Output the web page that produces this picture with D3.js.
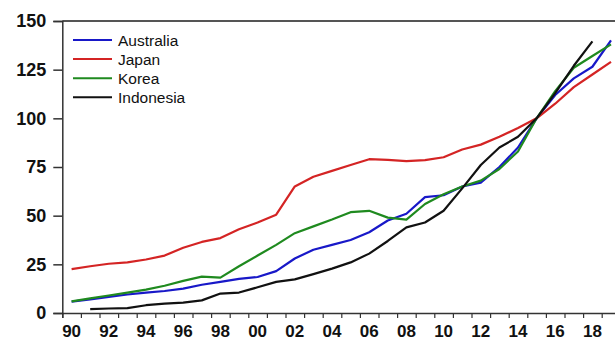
<!DOCTYPE html>
<html>
<head>
<meta charset="utf-8">
<script src="https://cdn.jsdelivr.net/npm/d3@7"></script>
<style>
  html, body { margin: 0; padding: 0; background: #fff; }
  svg { display: block; font-family: "Liberation Sans", Arial, sans-serif; }
</style>
</head>
<body>
<svg></svg>
<script>
// data (index, 2015 = 100)
const years = d3.range(1990, 2020);
const australia = [5.8, 7, 8.3, 9.5, 10.5, 11.3, 12.5, 14.5, 16, 17.5, 18.5, 21.5, 28, 32.5, 35, 37.5, 41.5, 47.5, 51, 59.5, 60.5, 65, 67, 75, 85, 100, 112, 120.5, 126.5, 140];
const japan = [22.5, 24, 25.3, 26, 27.5, 29.5, 33.5, 36.5, 38.5, 43, 46.5, 50.5, 65, 70, 73, 76, 79, 78.7, 78, 78.5, 80, 84, 86.5, 90.5, 95, 100, 107.5, 116, 122.5, 129];
const korea = [6, 7.5, 9, 10.5, 12, 14, 16.5, 18.7, 18.2, 24, 29.5, 35, 41, 44.5, 48, 51.8, 52.5, 49, 48, 56, 61, 65, 68, 74, 83, 100, 114, 126, 132, 138];
const indonesia = [null, 2, 2.3, 2.5, 4, 4.8, 5.3, 6.5, 10, 10.5, 13.2, 16, 17.3, 20, 22.8, 26, 30.5, 37, 44, 46.5, 52.5, 64, 76, 85, 90.5, 100, 113, 127, 139.5, null];

const names = ["Australia", "Japan", "Korea", "Indonesia"];
const colors = ["#1818c8", "#d42424", "#1f8a1f", "#111111"];
const series = [australia, japan, korea, indonesia];
const yTicks = [0, 25, 50, 75, 100, 125, 150];
const xLabels = d3.range(1990, 2019, 2);

const width = 615;
const height = 345;
const plotLeft = 62.3;
const plotTop = 21;
const plotBottom = 313;

const svg = d3.select("svg").attr("width", width).attr("height", height);

// year intervals: each label sits in the middle of its year
const x = d3.scaleLinear().domain([1990, 2020]).range([plotLeft, plotLeft + 30 * 18.6]);
const y = d3.scaleLinear().domain([0, 150]).range([plotBottom, plotTop]);

// top frame line
svg.append("line")
  .attr("x1", plotLeft).attr("x2", width)
  .attr("y1", plotTop).attr("y2", plotTop)
  .attr("stroke", "#555").attr("stroke-width", 2);

// y axis
const yAxis = svg.append("g")
  .attr("transform", `translate(${plotLeft},0)`)
  .call(d3.axisLeft(y).tickValues(yTicks).tickSize(9).tickPadding(7));
yAxis.select(".domain").attr("stroke", "#333").attr("stroke-width", 1.5);
yAxis.selectAll(".tick line").attr("stroke", "#333").attr("stroke-width", 1.5);
yAxis.selectAll(".tick text")
  .attr("fill", "#111")
  .style("font-size", "18px")
  .style("font-weight", "bold");

// x axis with a tick at each year boundary
const xAxis = svg.append("g")
  .attr("transform", `translate(0,${plotBottom})`)
  .call(d3.axisBottom(x).tickValues(d3.range(1990, 2021)).tickSize(5).tickFormat(""));
xAxis.select(".domain").attr("stroke", "#333").attr("stroke-width", 1.5);
xAxis.selectAll(".tick line").attr("stroke", "#333").attr("stroke-width", 1.2);

svg.append("g")
  .selectAll("text")
  .data(xLabels)
  .join("text")
  .attr("x", (d) => x(d + 0.5))
  .attr("y", 337)
  .attr("text-anchor", "middle")
  .attr("fill", "#111")
  .style("font-size", "17px")
  .style("font-weight", "bold")
  .text((d) => String(d % 100).padStart(2, "0"));

// lines
const line = d3.line()
  .defined((d) => d != null)
  .x((d, i) => x(years[i] + 0.5))
  .y((d) => y(d));

svg.append("g")
  .selectAll("path")
  .data(series)
  .join("path")
  .attr("d", line)
  .attr("fill", "none")
  .attr("stroke", (d, i) => colors[i])
  .attr("stroke-width", 2.2)
  .attr("stroke-linejoin", "round");

// legend
const legend = svg.append("g")
  .selectAll("g")
  .data(names)
  .join("g")
  .attr("transform", (d, i) => `translate(73,${40 + i * 19.1})`);

legend.append("line")
  .attr("x1", 0).attr("x2", 39)
  .attr("stroke", (d, i) => colors[i])
  .attr("stroke-width", 2);

legend.append("text")
  .attr("x", 45)
  .attr("y", 6)
  .attr("fill", "#111")
  .style("font-size", "15.5px")
  .text((d) => d);
</script>
</body>
</html>
